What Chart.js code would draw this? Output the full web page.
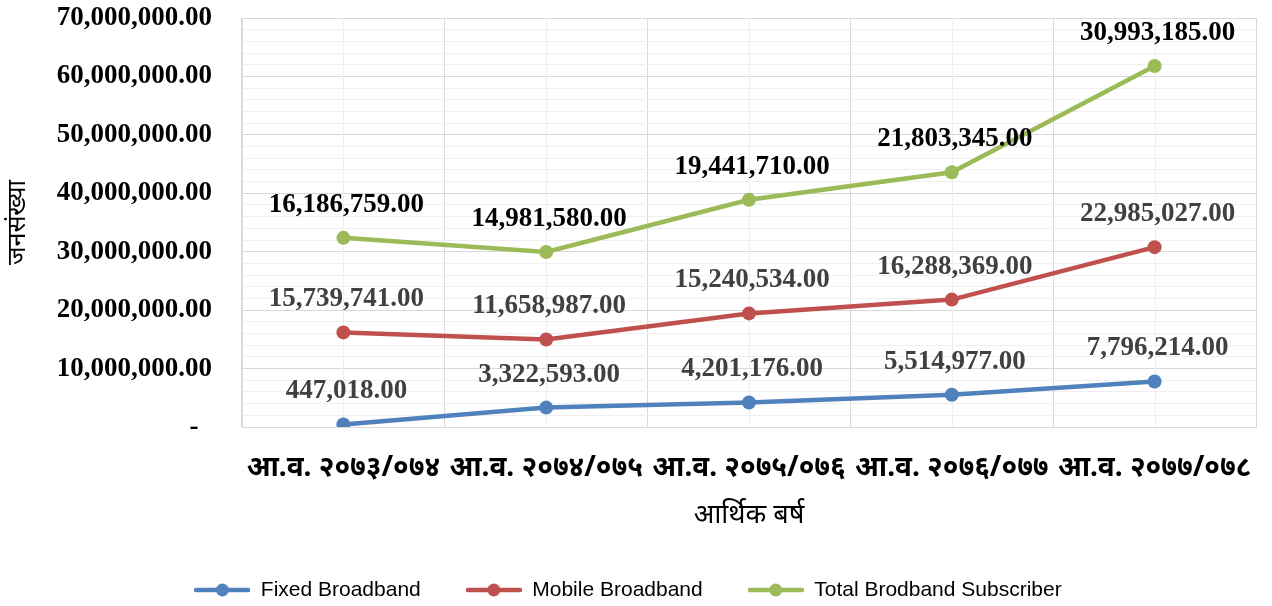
<!DOCTYPE html>
<html>
<head>
<meta charset="utf-8">
<script src="https://cdn.jsdelivr.net/npm/chart.js@4.4.1/dist/chart.umd.min.js"></script>
<style>
  html, body { margin: 0; padding: 0; background: #fff; }
  #wrap { width: 1272px; height: 606px; }
</style>
</head>
<body>
<div id="wrap"><canvas id="bbChart" width="1272" height="606"></canvas></div>
<script>
// fiscal years (x axis)
const years = ["आ.व. २०७३/०७४", "आ.व. २०७४/०७५", "आ.व. २०७५/०७६", "आ.व. २०७६/०७७", "आ.व. २०७७/०७८"];

// subscriber numbers per series
const fixedBroadband = [447018, 3322593, 4201176, 5514977, 7796214];
const mobileBroadband = [15739741, 11658987, 15240534, 16288369, 22985027];
const totalBroadband = [16186759, 14981580, 19441710, 21803345, 30993185];

// y axis range
const yMin = 0;
const yMax = 70000000;
const yStep = 2000000;

const serif = "'Liberation Serif', 'Times New Roman', serif";

function fmt(v) {
    return v.toLocaleString("en-US", { minimumFractionDigits: 2, maximumFractionDigits: 2 });
}

// small picture for the legend: line with a dot in the middle
function legendMark(color) {
    const c = document.createElement("canvas");
    c.width = 56; c.height = 14;
    const g = c.getContext("2d");
    g.strokeStyle = color; g.lineWidth = 4.5; g.lineCap = "round";
    g.beginPath(); g.moveTo(2, 7); g.lineTo(54, 7); g.stroke();
    g.fillStyle = color;
    g.beginPath(); g.arc(28, 7, 6.5, 0, Math.PI * 2); g.fill();
    return c;
}

// value labels above every point
const valueLabels = {
    id: "valueLabels",
    afterDatasetsDraw(chart) {
        const ctx = chart.ctx;
        ctx.save();
        ctx.font = "bold 27px " + serif;
        ctx.textAlign = "center";
        ctx.textBaseline = "middle";
        chart.data.datasets.forEach((ds, i) => {
            const meta = chart.getDatasetMeta(i);
            ctx.fillStyle = ds.labelColor;
            meta.data.forEach((pt, j) => {
                ctx.fillText(fmt(ds.data[j]), pt.x + 3, pt.y - 33);
            });
        });
        ctx.restore();
    }
};

// light vertical lines at category centres
const centreLines = {
    id: "centreLines",
    beforeDatasetsDraw(chart) {
        const x = chart.scales.x;
        const area = chart.chartArea;
        const ctx = chart.ctx;
        ctx.save();
        ctx.strokeStyle = "#efefef";
        ctx.lineWidth = 1;
        years.forEach((y, i) => {
            const px = Math.round(x.getPixelForValue(i)) + 0.5;
            ctx.beginPath();
            ctx.moveTo(px, area.top);
            ctx.lineTo(px, area.bottom);
            ctx.stroke();
        });
        ctx.restore();
    }
};

const ctx = document.getElementById("bbChart").getContext("2d");
new Chart(ctx, {
    type: "line",
    data: {
        labels: years,
        datasets: [
            {
                label: "Fixed Broadband",
                data: fixedBroadband,
                borderColor: "#4f81bd",
                backgroundColor: "#4f81bd",
                labelColor: "#404040",
                mark: legendMark("#4f81bd"),
            },
            {
                label: "Mobile Broadband",
                data: mobileBroadband,
                borderColor: "#c0504d",
                backgroundColor: "#c0504d",
                labelColor: "#404040",
                mark: legendMark("#c0504d"),
            },
            {
                label: "Total Brodband Subscriber",
                data: totalBroadband,
                borderColor: "#9bbb59",
                backgroundColor: "#9bbb59",
                labelColor: "#000000",
                mark: legendMark("#9bbb59"),
            },
        ],
    },
    options: {
        responsive: false,
        animation: false,
        layout: { padding: { top: 18, right: 16, left: 0, bottom: -4.5 } },
        elements: {
            line: { borderWidth: 4.5, tension: 0, fill: false },
            point: { radius: 7, borderWidth: 0, hoverRadius: 7 },
        },
        plugins: {
            tooltip: { enabled: false },
            legend: {
                position: "bottom",
                labels: {
                    usePointStyle: true,
                    pointStyleWidth: 56,
                    padding: 45,
                    color: "#000",
                    font: { family: "'Liberation Sans Narrow', 'Liberation Sans', sans-serif", size: 21 },
                    generateLabels(chart) {
                        return chart.data.datasets.map((ds, i) => ({
                            text: ds.label,
                            pointStyle: ds.mark,
                            fillStyle: ds.borderColor,
                            strokeStyle: ds.borderColor,
                            lineWidth: 0,
                            hidden: false,
                            datasetIndex: i,
                            fontColor: "#000",
                        }));
                    },
                },
            },
        },
        scales: {
            x: {
                offset: true,
                grid: { offset: true, color: "#d9d9d9", drawTicks: false },
                border: { color: "#d9d9d9" },
                ticks: {
                    color: "#000",
                    padding: 24,
                    maxRotation: 0,
                    autoSkip: false,
                    font: { family: "'Noto Sans', sans-serif", size: 28, weight: "bold" },
                },
                title: {
                    display: true,
                    text: "आर्थिक बर्ष",
                    color: "#000",
                    padding: { top: 0, bottom: 3 },
                    font: { family: "'Noto Sans', sans-serif", size: 27 },
                },
                afterFit(scale) {
                    scale.height = 107.5;
                    scale.paddingLeft = 0;
                    scale.paddingRight = 0;
                },
            },
            y: {
                stacked: true,
                min: yMin,
                max: yMax,
                grid: {
                    drawTicks: true,
                    tickLength: 30,
                    tickColor: "rgba(0,0,0,0)",
                    color: (c) => (c.tick && c.tick.value % 10000000 === 0 ? "#d9d9d9" : "#efefef"),
                },
                border: { color: "#d9d9d9" },
                ticks: {
                    stepSize: yStep,
                    autoSkip: false,
                    color: "#000",
                    padding: 0,
                    font: { family: serif, size: 27, weight: "bold" },
                    callback: (v) => {
                        if (v === 0) return "-  ";
                        return v % 10000000 === 0 ? fmt(v) : "";
                    },
                },
                title: {
                    display: true,
                    text: "जनसंख्या",
                    color: "#000",
                    padding: { top: 3, bottom: 0 },
                    font: { family: "'Noto Sans', sans-serif", size: 25 },
                },
                afterFit(scale) { scale.width = 242; },
            },
        },
    },
    plugins: [centreLines, valueLabels],
});
</script>
</body>
</html>
